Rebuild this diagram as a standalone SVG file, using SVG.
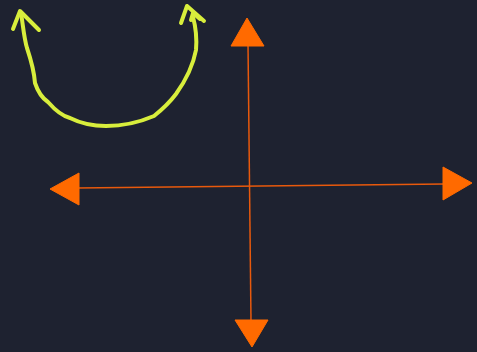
<svg xmlns="http://www.w3.org/2000/svg" width="477" height="352" viewBox="0 0 477 352">
<style>
.axis{stroke:#e8590c;stroke-width:1.5;fill:none}
.head{fill:#ff6a00;stroke:#ff6a00;stroke-width:1;stroke-linejoin:round}
.hand{stroke:#d8ee3c;stroke-width:4;fill:none;stroke-linecap:round;stroke-linejoin:round}
</style>
<rect width="477" height="352" fill="#1e2230"/>
<g id="connectors">
<line class="axis" x1="248" y1="44" x2="251" y2="322"/>
<line class="axis" x1="77" y1="188" x2="445" y2="184"/>
<polygon class="head" points="247,18 264,46 231,46"/>
<polygon class="head" points="252,347 268,320 235,320"/>
<polygon class="head" points="50,189 79,173 79,205"/>
<polygon class="head" points="472,183 443,167 443,200"/>
</g>
<g id="curve">
<path class="hand" d="M21,13 C23,25 24,38 27,48 C31,60 34,70 35,83 C38,92 42,98 48,102 C55,110 62,116 70,118 C80,123 92,126 106,126 C122,126 140,122 154,116 C164,108 170,102 176,94 C186,80 193,66 196,50 C197,38 196,28 193,17"/>
<path class="hand" d="M13,29 L20,11 L39,30"/>
<path class="hand" d="M181,23 L187,6 L204,21 M191,20 L193,13 L200,19"/>
</g>
</svg>
